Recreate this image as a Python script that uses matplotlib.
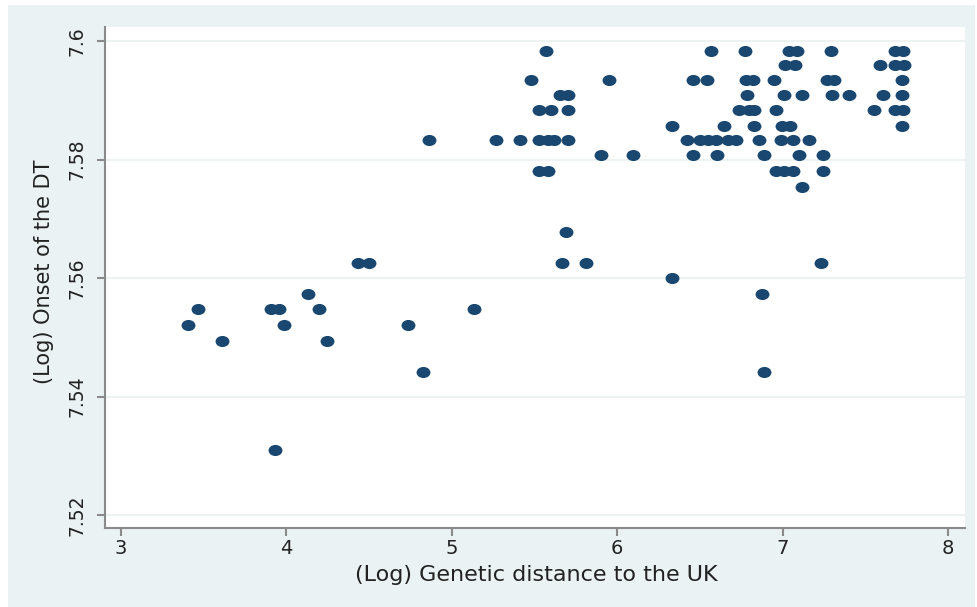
import matplotlib.pyplot as plt
from matplotlib.path import Path
from matplotlib.patches import Rectangle
import matplotlib.transforms as mtransforms

# (Log) genetic distance to the UK
gen_dist = [
    5.567, 6.565, 6.773, 7.04, 7.09, 7.291, 7.68, 7.73,
    7.014, 7.075, 7.589, 7.68, 7.734,
    5.479, 5.950, 6.46, 6.54, 6.78, 6.82, 6.948, 7.27, 7.31, 7.72,
    5.654, 5.705, 6.783, 7.008, 7.12, 7.297, 7.404, 7.605, 7.72,
    5.53, 5.60, 5.70, 6.735, 6.795, 6.83, 6.96, 7.553, 7.68, 7.73,
    6.329, 6.645, 6.827, 6.994, 7.045, 7.72,
    4.86, 5.27, 5.41, 5.53, 5.58, 5.62, 5.70, 6.42, 6.50, 6.55, 6.60,
    6.67, 6.72, 6.86, 6.99, 7.06, 7.16,
    5.90, 6.093, 6.456, 6.601, 6.887, 7.099, 7.246,
    5.53, 5.584, 6.96, 7.01, 7.06, 7.246,
    7.12,
    5.688,
    4.435, 4.502, 5.664, 5.811, 7.230,
    6.329,
    4.133, 6.875,
    3.467, 3.905, 3.957, 4.197, 5.134,
    3.403, 3.983, 4.737,
    3.613, 4.243,
    4.824, 6.888,
    3.933,
]

# (Log) onset of the demographic transition, same order
log_onset = [
    7.5984, 7.5984, 7.5984, 7.5984, 7.5984, 7.5984, 7.5984, 7.5984,
    7.5959, 7.5959, 7.5959, 7.5959, 7.5959,
    7.5934, 7.5934, 7.5934, 7.5934, 7.5934, 7.5934, 7.5934, 7.5934, 7.5934, 7.5934,
    7.5909, 7.5909, 7.5909, 7.5909, 7.5909, 7.5909, 7.5909, 7.5909, 7.5909,
    7.5884, 7.5884, 7.5884, 7.5884, 7.5884, 7.5884, 7.5884, 7.5884, 7.5884, 7.5884,
    7.5857, 7.5857, 7.5857, 7.5857, 7.5857, 7.5857,
    7.5833, 7.5833, 7.5833, 7.5833, 7.5833, 7.5833, 7.5833, 7.5833, 7.5833, 7.5833, 7.5833,
    7.5833, 7.5833, 7.5833, 7.5833, 7.5833, 7.5833,
    7.5808, 7.5808, 7.5808, 7.5808, 7.5808, 7.5808, 7.5808,
    7.5781, 7.5781, 7.5781, 7.5781, 7.5781, 7.5781,
    7.5754,
    7.5678,
    7.5625, 7.5625, 7.5625, 7.5625, 7.5625,
    7.5600,
    7.5573, 7.5573,
    7.5547, 7.5547, 7.5547, 7.5547, 7.5547,
    7.5521, 7.5521, 7.5521,
    7.5494, 7.5494,
    7.5441, 7.5441,
    7.5310,
]

x_ticks = [3, 4, 5, 6, 7, 8]
y_ticks = [7.52, 7.54, 7.56, 7.58, 7.6]
y_tick_labels = ['7.52', '7.54', '7.56', '7.58', '7.6']

W, H = 977, 607
bg = '#eaf2f3'
axis_grey = '#8a8a8a'
navy = '#1a476f'

fig = plt.figure(figsize=(W / 100, H / 100), dpi=100)
fig.patch.set_facecolor('white')
fig.patches.append(Rectangle((8 / W, 0), (975 - 8) / W, (H - 5) / H,
                             transform=fig.transFigure, facecolor=bg,
                             edgecolor='none', zorder=-5))

ax = fig.add_axes([105 / W, 1 - 528 / H, (965 - 105) / W, (528 - 27) / H])
ax.set_facecolor('white')

# slightly wide oval markers, like the stata output
oval = Path.unit_circle().transformed(mtransforms.Affine2D().scale(1, 0.8))
ax.scatter(gen_dist, log_onset, s=100, marker=oval, color=navy,
           linewidths=0, zorder=3)

ax.set_xlim(2.903, 8.103)
ax.set_ylim(7.5178, 7.6024)
ax.set_xticks(x_ticks)
ax.set_xticklabels([str(t) for t in x_ticks])
ax.set_yticks(y_ticks)
ax.set_yticklabels(y_tick_labels, rotation=90, va='center')

ax.yaxis.grid(True, color='#edf3f3', linewidth=1.5)
ax.set_axisbelow(True)
for side in ['top', 'right']:
    ax.spines[side].set_visible(False)
for side in ['left', 'bottom']:
    ax.spines[side].set_color(axis_grey)
    ax.spines[side].set_linewidth(1.5)

ax.tick_params(axis='both', length=6, width=1.5, color=axis_grey,
               labelcolor='#222222')
ax.tick_params(axis='x', pad=2, labelsize=14)
ax.tick_params(axis='y', pad=7, labelsize=13.5)

fig.text(536 / W, 1 - 581 / H, '(Log) Genetic distance to the UK',
         ha='center', va='baseline', fontsize=16, color='#222222')
fig.text(44 / W, 1 - 272 / H, '(Log) Onset of the DT', rotation=90,
         ha='center', va='center', fontsize=15, color='#222222')

fig.savefig('out.png', dpi=100, facecolor=fig.get_facecolor())
